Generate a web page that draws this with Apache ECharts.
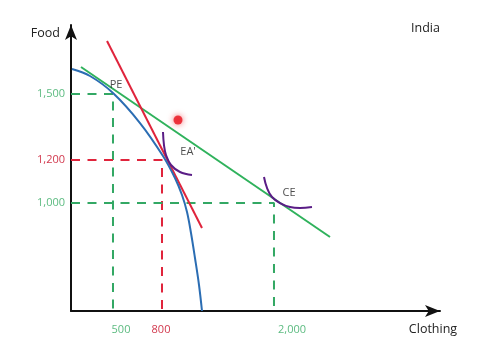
<!DOCTYPE html>
<html>
<head>
<meta charset="utf-8">
<script src="https://cdn.jsdelivr.net/npm/echarts@6/dist/echarts.min.js"></script>
<style>html,body{margin:0;padding:0;background:#fff}#c{width:480px;height:360px}</style>
</head>
<body>
<div id="c"></div>
<script>
// Abstract diagram units (0-100 on each axis); ticks are not to scale in the original sketch
const clothingTickLabels = ['500', '800', '2,000'];
const clothingTickPos = [13.55, 24.39, 59.89];
const foodTickLabels = ['1,500', '1,200', '1,000'];
const foodTickPos = [75.87, 52.80, 37.76];

// Production possibility frontier
const ppfClothing = [0.27, 5.15, 11.38, 18.70, 24.93, 28.18, 30.08, 31.44, 32.52, 33.60, 34.69, 35.50];
const ppfFood = [84.62, 82.17, 76.22, 65.73, 54.20, 46.50, 40.56, 34.62, 27.27, 18.53, 9.09, 0];

// World price line (green) and autarky price line (red)
const worldClothing = [2.71, 70.19];
const worldFood = [85.31, 25.87];
const autarkyClothing = [9.76, 35.50];
const autarkyFood = [94.41, 29.02];

// Key points: production (PE), autarky (EA'), consumption (CE)
const pointNames = ['PE', "EA'", 'CE'];
const pointClothing = [11.38, 24.66, 55.01];
const pointFood = [75.87, 52.80, 37.76];
const pointLabelClothing = [12.20, 31.71, 59.08];
const pointLabelFood = [79.02, 55.59, 41.26];

// Indifference curves
const eaCurveClothing = [24.93, 25.20, 25.75, 27.10, 29.54, 32.79];
const eaCurveFood = [62.59, 58.04, 54.55, 51.05, 48.60, 47.55];
const ceCurveClothing = [52.30, 53.12, 54.47, 56.64, 59.35, 62.06, 65.31];
const ceCurveFood = [46.85, 43.01, 39.86, 37.76, 36.36, 36.01, 36.36];

// Red dot
const dotClothing = [29.00];
const dotFood = [66.78];

const GREEN = '#2fb25c', GREEN_DASH = '#33a864', GREEN_TXT = '#5cbb80';
const RED = '#e0243c', RED_TXT = '#d2394e';
const BLUE = '#2b6db3', PURPLE = '#5a1d86';
const FONT = 'Open Sans';
const tickRich = {
  g: {color: GREEN_TXT, fontSize: 11, fontFamily: FONT},
  r: {color: RED_TXT, fontSize: 11, fontFamily: FONT}
};
const xTickStyle = ['g', 'r', 'g'];
const yTickStyle = ['g', 'r', 'g'];

const zip = (a, b) => a.map((v, i) => [v, b[i]]);
const dashPath = i => [[0, pointFood[i]], [pointClothing[i], pointFood[i]], [pointClothing[i], 0]];
const dashColors = [GREEN_DASH, RED, GREEN_DASH];

const series = [];
pointNames.forEach((n, i) => {
  series.push({
    type: 'line', data: dashPath(i), symbol: 'none', silent: true, z: 1,
    lineStyle: {color: dashColors[i], width: 2, type: [9, 7.5]}
  });
});
series.push({type: 'line', data: zip(worldClothing, worldFood), symbol: 'none', z: 3,
  lineStyle: {color: GREEN, width: 2}});
series.push({type: 'line', data: zip(autarkyClothing, autarkyFood), symbol: 'none', z: 3,
  lineStyle: {color: RED, width: 2}});
series.push({type: 'line', data: zip(ppfClothing, ppfFood), symbol: 'none', smooth: 0.35, z: 4,
  lineStyle: {color: BLUE, width: 2}});
series.push({type: 'line', data: zip(eaCurveClothing, eaCurveFood), symbol: 'none', smooth: 0.4, z: 5,
  lineStyle: {color: PURPLE, width: 2}});
series.push({type: 'line', data: zip(ceCurveClothing, ceCurveFood), symbol: 'none', smooth: 0.4, z: 5,
  lineStyle: {color: PURPLE, width: 2}});
series.push({type: 'scatter', data: zip(dotClothing, dotFood), symbolSize: 9, z: 6,
  itemStyle: {color: '#e8101c', shadowBlur: 6, shadowColor: 'rgba(240,20,30,0.8)'}});
series.push({type: 'scatter', symbolSize: 1, z: 7,
  data: pointNames.map((n, i) => ({name: n, value: [pointLabelClothing[i], pointLabelFood[i]]})),
  itemStyle: {color: 'rgba(0,0,0,0)'},
  label: {show: true, position: 'inside', formatter: p => p.name, color: '#222', fontSize: 11, fontFamily: FONT}
});

const chart = echarts.init(document.getElementById('c'), null, {renderer: 'canvas'});
chart.setOption({
  animation: false,
  backgroundColor: '#fff',
  title: {text: 'India', left: 406, top: 17,
    textStyle: {fontSize: 12.5, fontWeight: 'normal', color: '#222', fontFamily: FONT}},
  grid: {left: 71, right: 40, top: 25, bottom: 49},
  xAxis: {
    type: 'value', min: 0, max: 100,
    name: 'Clothing', nameLocation: 'end', nameGap: -7,
    nameTextStyle: {align: 'center', verticalAlign: 'top', padding: [12, 0, 0, 0], fontSize: 12.5, color: '#222', fontFamily: FONT},
    axisLine: {lineStyle: {color: '#111', width: 2}, symbol: ['none', 'arrow'], symbolSize: [9, 15]},
    axisTick: {show: false},
    splitLine: {show: false},
    axisLabel: {
      customValues: clothingTickPos, margin: 13, rich: tickRich,
      formatter: v => { const i = clothingTickPos.indexOf(v); return i < 0 ? '' : '{' + xTickStyle[i] + '|' + clothingTickLabels[i] + '}'; }
    }
  },
  yAxis: {
    type: 'value', min: 0, max: 100,
    name: 'Food', nameLocation: 'end', nameGap: -8,
    nameTextStyle: {align: 'right', verticalAlign: 'middle', padding: [0, 11, 0, 0], fontSize: 12.5, color: '#222', fontFamily: FONT},
    axisLine: {lineStyle: {color: '#111', width: 2}, symbol: ['none', 'arrow'], symbolSize: [9, 15]},
    axisTick: {show: false},
    splitLine: {show: false},
    axisLabel: {
      customValues: foodTickPos, margin: 6, rich: tickRich,
      formatter: v => { const i = foodTickPos.indexOf(v); return i < 0 ? '' : '{' + yTickStyle[i] + '|' + foodTickLabels[i] + '}'; }
    }
  },
  series: series
});
</script>
</body>
</html>
